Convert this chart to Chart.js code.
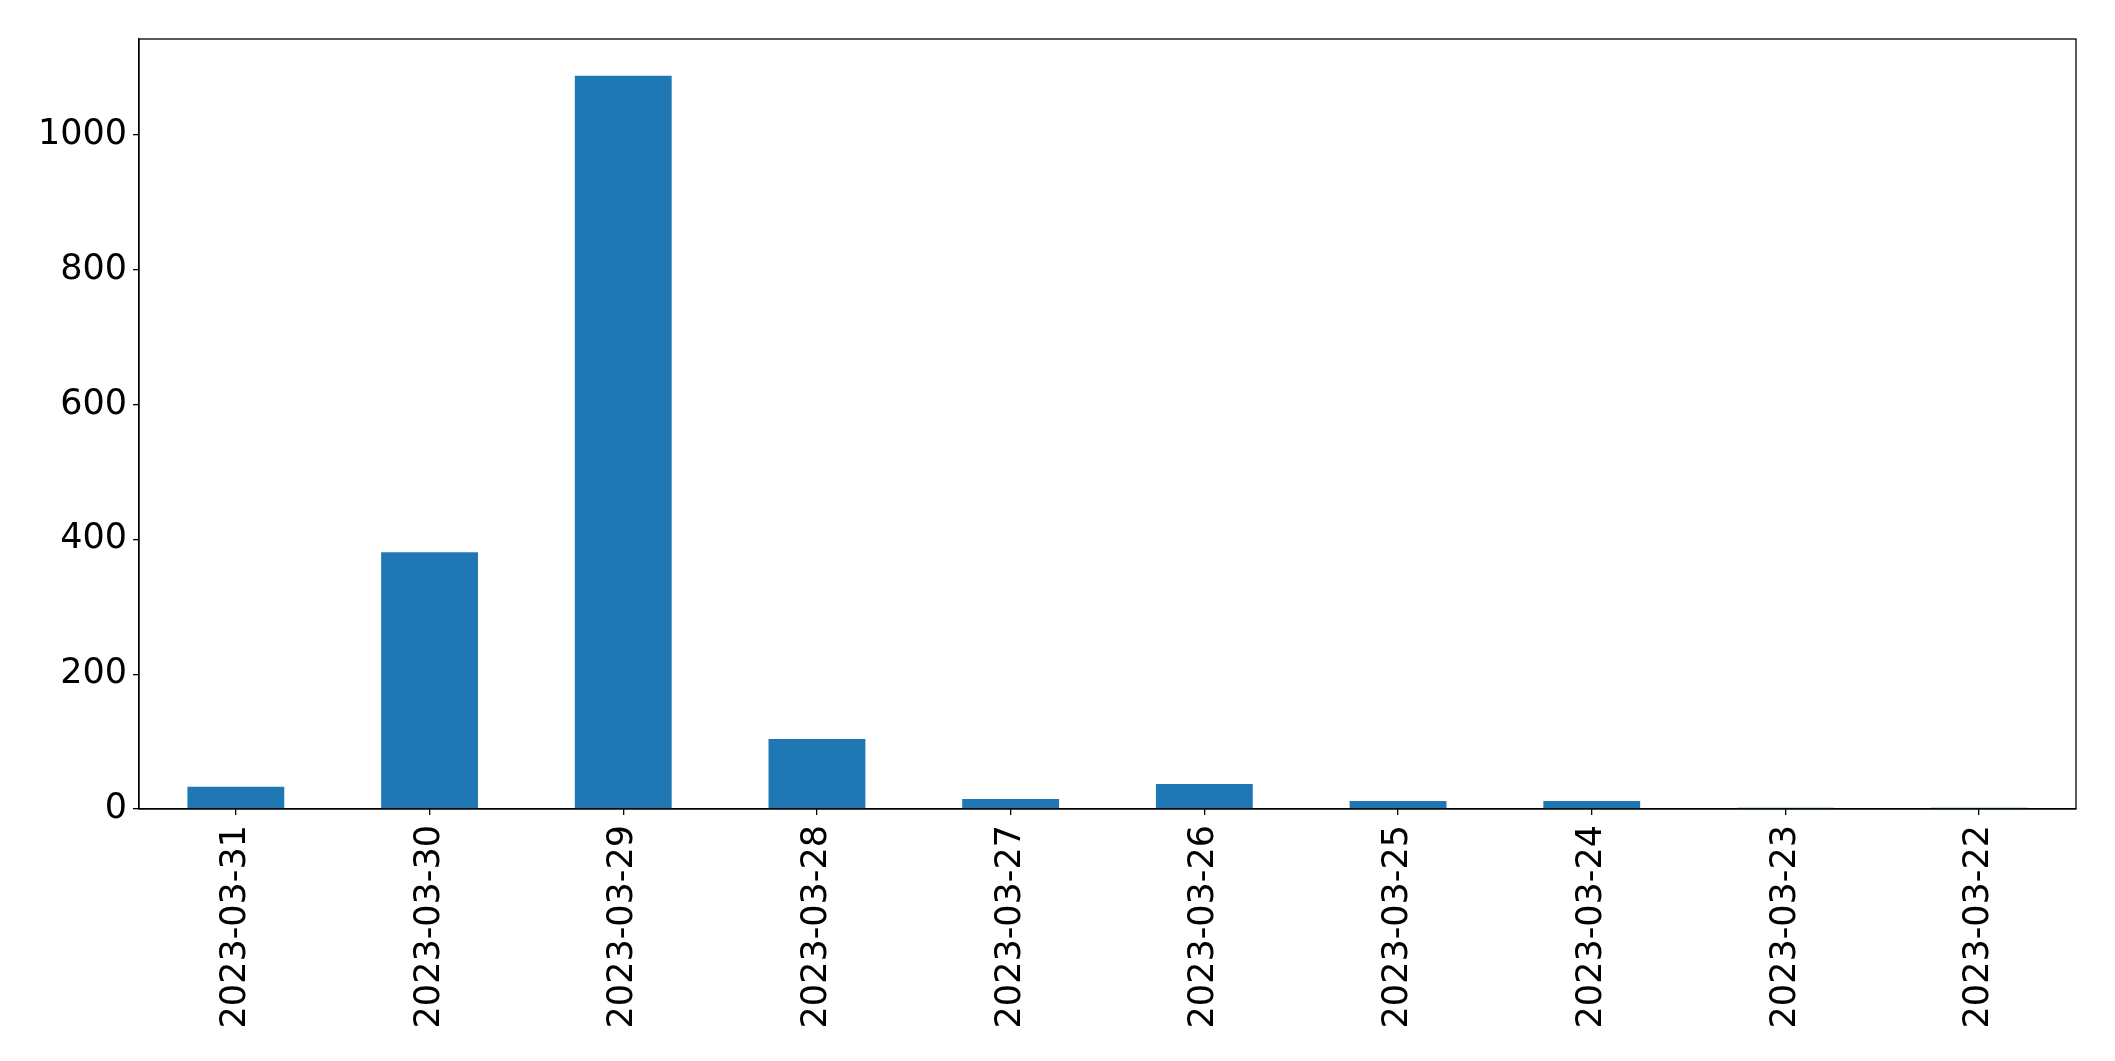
<!DOCTYPE html>
<html>
<head>
<meta charset="utf-8">
<script src="https://cdn.jsdelivr.net/npm/chart.js@4/dist/chart.umd.min.js"></script>
<style>
  html, body { margin: 0; padding: 0; background: #fff; }
  #wrap { width: 2115px; height: 1061px; }
</style>
</head>
<body>
<div id="wrap"><canvas id="c" width="2115" height="1061"></canvas></div>
<script>
const categories = ["2023-03-31", "2023-03-30", "2023-03-29", "2023-03-28", "2023-03-27",
                    "2023-03-26", "2023-03-25", "2023-03-24", "2023-03-23", "2023-03-22"];
const counts = [33, 381, 1088, 104, 15, 37, 12, 12, 2, 2];
const yTicks = [0, 200, 400, 600, 800, 1000];
const yMax = 1142.4;

const frame = {
  id: 'frame',
  afterDraw(chart) {
    const a = chart.chartArea, ctx = chart.ctx;
    ctx.save();
    ctx.strokeStyle = '#000';
    ctx.lineWidth = 1.3;
    ctx.strokeRect(a.left, a.top, a.right - a.left, a.bottom - a.top);
    ctx.restore();
  }
};

new Chart(document.getElementById('c'), {
  type: 'bar',
  data: {
    labels: categories,
    datasets: [{
      data: counts,
      backgroundColor: '#1f77b4',
      borderWidth: 0,
      barPercentage: 0.5,
      categoryPercentage: 1.0
    }]
  },
  options: {
    responsive: false,
    animation: false,
    layout: { padding: { left: 0, top: 39, right: 39, bottom: 0 } },
    plugins: { legend: { display: false }, tooltip: { enabled: false } },
    scales: {
      x: {
        offset: true,
        grid: { offset: false, drawOnChartArea: false, drawTicks: true, tickLength: 6, color: '#000', lineWidth: 1.3 },
        border: { display: true, color: '#000', width: 1.3 },
        ticks: {
          color: '#000',
          font: { family: 'DejaVu Sans', size: 35 },
          minRotation: 90, maxRotation: 90,
          padding: 10,
          autoSkip: false
        },
        afterFit(scale) { scale.height = 1061 - 809; }
      },
      y: {
        min: 0, max: yMax,
        grid: { drawOnChartArea: false, drawTicks: true, tickLength: 6, color: '#000', lineWidth: 1.3 },
        border: { display: true, color: '#000', width: 1.3 },
        afterBuildTicks(scale) { scale.ticks = yTicks.map(v => ({ value: v })); },
        ticks: {
          color: '#000',
          font: { family: 'DejaVu Sans', size: 35 },
          padding: 6,
          callback: (v) => String(v)
        },
        afterFit(scale) { scale.width = 139; }
      }
    }
  },
  plugins: [frame]
});
</script>
</body>
</html>
